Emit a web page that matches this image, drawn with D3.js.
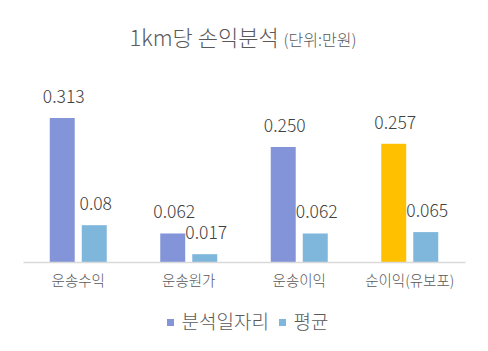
<!DOCTYPE html>
<html>
<head>
<meta charset="utf-8">
<script src="https://cdn.jsdelivr.net/npm/d3@7"></script>
<style>
  body { margin: 0; background: #fff; }
  text { font-family: "Noto Sans CJK KR", "Noto Sans", sans-serif; font-weight: 300; }
</style>
</head>
<body>
<div id="chart"></div>
<script>
// 데이터
const categories = ["운송수익", "운송원가", "운송이익", "순이익(유보포)"];
const seriesNames = ["분석일자리", "평균"];
const mainValues = [0.313, 0.062, 0.250, 0.257];
const avgValues = [0.08, 0.017, 0.062, 0.065];
const mainLabels = ["0.313", "0.062", "0.250", "0.257"];
const avgLabels = ["0.08", "0.017", "0.062", "0.065"];

const W = 488, H = 351;
const margin = { top: 101, right: 23, bottom: 89, left: 23 };
const width = W - margin.left - margin.right;
const height = H - margin.top - margin.bottom;

const colorMain = "#8394d8";
const colorAvg = "#7fb6dc";
const colorHighlight = "#ffc000";

const svg = d3.select("#chart").append("svg")
    .attr("width", W)
    .attr("height", H);

const g = svg.append("g")
    .attr("transform", `translate(${margin.left},${margin.top})`);

const x = d3.scaleBand().domain(categories).range([0, width]).padding(0);
const x1 = d3.scaleBand().domain(seriesNames).range([x.bandwidth() / 2 - 28.5, x.bandwidth() / 2 + 28.5]).paddingInner(0.22);
const y = d3.scaleLinear().domain([0, 0.35]).range([height, 0]);

const rows = categories.map((c, i) => ({
    cat: c,
    vals: [
        { s: seriesNames[0], v: mainValues[i], label: mainLabels[i], color: i === 3 ? colorHighlight : colorMain },
        { s: seriesNames[1], v: avgValues[i], label: avgLabels[i], color: colorAvg }
    ]
}));

const groups = g.selectAll(".grp")
    .data(rows)
    .join("g")
    .attr("transform", d => `translate(${x(d.cat)},0)`);

groups.selectAll("rect")
    .data(d => d.vals)
    .join("rect")
    .attr("x", d => x1(d.s))
    .attr("y", d => y(d.v))
    .attr("width", x1.bandwidth())
    .attr("height", d => height - y(d.v))
    .attr("fill", d => d.color);

groups.selectAll(".val")
    .data(d => d.vals)
    .join("text")
    .attr("class", "val")
    .attr("x", d => x1(d.s) + x1.bandwidth() / 2 + 1.5)
    .attr("y", d => y(d.v) - 15)
    .attr("text-anchor", "middle")
    .style("font-size", "17.5px")
    .style("fill", "#404040")
    .text(d => d.label);

// x축
const xAxis = g.append("g")
    .attr("transform", `translate(0,${height})`)
    .call(d3.axisBottom(x).tickSize(0).tickPadding(14));
xAxis.select(".domain").attr("stroke", "#d9d9d9").attr("stroke-width", 1.5);
xAxis.selectAll("text")
    .style("font-size", "14.5px")
    .style("fill", "#595959")
    .style("font-family", "'Noto Sans CJK KR', sans-serif");

// 제목
const title = svg.append("text")
    .attr("x", 243)
    .attr("y", 46)
    .attr("text-anchor", "middle")
    .style("fill", "#595959");
title.append("tspan").style("font-size", "22px").text("1km당 손익분석 ");
title.append("tspan").style("font-size", "16px").text("(단위:만원)");

// 범례
const legendData = [
    { name: seriesNames[0], color: colorMain, x: 167 },
    { name: seriesNames[1], color: colorAvg, x: 279 }
];
const legend = svg.selectAll(".legend")
    .data(legendData)
    .join("g")
    .attr("transform", d => `translate(${d.x},319)`);
legend.append("rect")
    .attr("width", 7).attr("height", 7)
    .attr("fill", d => d.color);
legend.append("text")
    .attr("x", 14.5)
    .attr("y", 10)
    .style("font-size", "19px")
    .style("fill", "#595959")
    .text(d => d.name);
</script>
</body>
</html>
